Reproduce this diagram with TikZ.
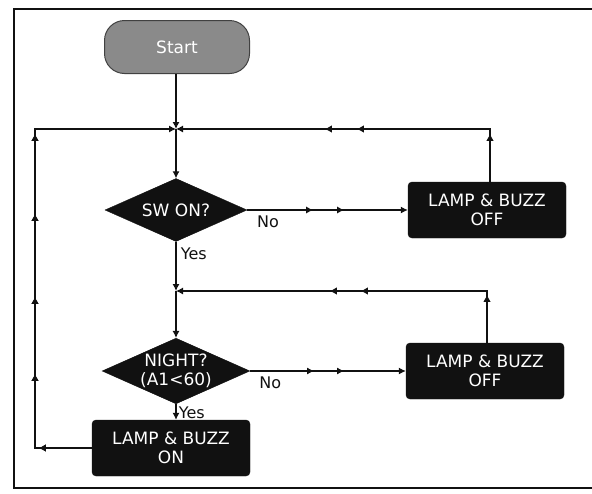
\documentclass[tikz,border=0pt]{standalone}
\usepackage{fontspec}
\setmainfont{DejaVu Sans}
\usetikzlibrary{positioning,arrows.meta,shapes.geometric,decorations.markings}
\definecolor{ink}{HTML}{111111}
\definecolor{stone}{HTML}{8A8A8A}
\tikzset{
  blk/.style={rectangle,rounded corners=4pt,fill=ink,draw=ink,text=white,
    minimum width=158pt,minimum height=56pt,align=center,inner sep=0pt},
  pill/.style={rectangle,rounded corners=20pt,fill=stone,draw=ink!80,line width=1pt,
    text=white,minimum width=145pt,minimum height=53pt},
  ask/.style={diamond,fill=ink,draw=ink,text=white,align=center,aspect=2.25,
    inner sep=0pt,minimum width=142pt,minimum height=63pt},
  lbl/.style={font=\fontsize{16}{18}\selectfont,text=ink},
  flow/.style={draw=ink,line width=1.1pt,-{Latex[length=7pt,width=7pt]}},
  tip/.style={postaction={decorate},decoration={markings,
    mark=at position #1 with {\arrow{Latex[length=7pt,width=7pt]}}}},
  tips/.style 2 args={postaction={decorate},decoration={markings,
    mark=at position #1 with {\arrow{Latex[length=7pt,width=7pt]}},
    mark=at position #2 with {\arrow{Latex[length=7pt,width=7pt]}}}}
}
\begin{document}
\begin{tikzpicture}[x=1pt,y=-1pt,font=\fontsize{17}{19}\selectfont]
    \useasboundingbox (0,0) rectangle (592,493);
    % frame
    \draw[ink,line width=1.3pt] (592,9) -| (14,488) -- (592,488);
    % nodes
    \node[pill] (start) at (177,47) {Start};
    \coordinate (j1) at (176,129);
    \node[ask] (sw) at (176,210) {SW ON?};
    \node[blk] (off1) at (487,210) {LAMP \& BUZZ\\OFF};
    \coordinate (j2) at (176,291);
    \node[ask] (night) at (176,371) {NIGHT?\\(A1<60)};
    \node[blk] (off2) at (485,371) {LAMP \& BUZZ\\OFF};
    \node[blk] (on) at (171,448) {LAMP \& BUZZ\\ON};
    \coordinate (lft) at (35,129);
    % connectors
    \draw[flow] (start.south -| j1) -- (j1);
    \draw[flow] (j1) -- (sw);
    \draw[flow,tips={66pt}{97pt}] (sw.east) -- (off1.west)
      node[lbl,pos=0.13,below=2pt]{No};
    \draw[flow,tip=48pt,tips={186pt}{218pt}] ([xshift=3pt]off1.north) |- (j1);
    \draw[flow] (sw.south) -- (j2)
      node[lbl,pos=0.25,right=1pt]{Yes};
    \draw[flow] (j2) -- (night);
    \draw[flow,tips={64pt}{94pt}] (night.east) -- (off2.west)
      node[lbl,pos=0.13,below=2pt]{No};
    \draw[flow,tip=48pt,tips={178pt}{209pt}] ([xshift=2pt]off2.north) |- (j2);
    \draw[flow] (night.south) -- ([xshift=5pt]on.north)
      node[lbl,pos=0.55,right=-1pt]{Yes};
    \draw[flow,tip=53pt,tips={131pt}{208pt},tips={291pt}{371pt}] (on.west) -| (lft) -- (j1);
\end{tikzpicture}
\end{document}
